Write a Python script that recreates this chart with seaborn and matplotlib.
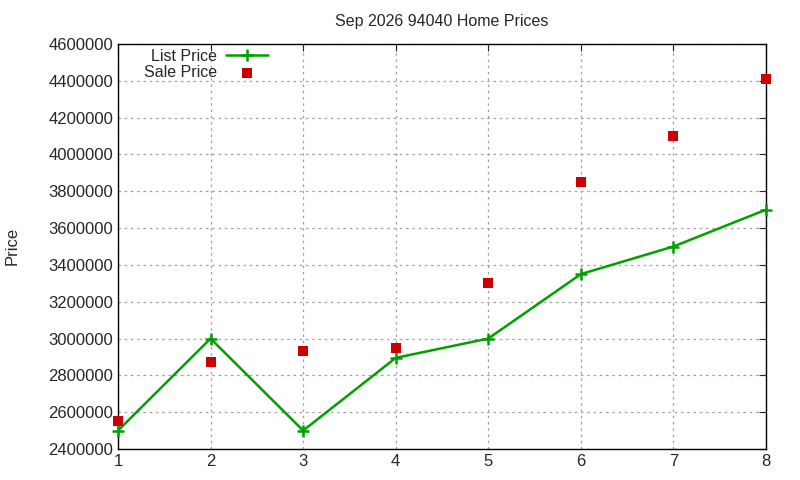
import numpy as np
import pandas as pd
import matplotlib
matplotlib.use('Agg')
import matplotlib.pyplot as plt
import seaborn as sns

# Chart data
months = [1, 2, 3, 4, 5, 6, 7, 8]
list_price = [2500000, 3000000, 2500000, 2895000, 3000000, 3350000, 3500000, 3700000]
sale_price = [2550000, 2875000, 2930000, 2950000, 3300000, 3850000, 4100000, 4410000]
y_ticks = [2400000, 2600000, 2800000, 3000000, 3200000, 3400000,
           3600000, 3800000, 4000000, 4200000, 4400000, 4600000]

sns.set_style('white')
plt.rcParams['font.family'] = ['Liberation Sans', 'DejaVu Sans']

df = pd.DataFrame({'month': months, 'list': list_price, 'sale': sale_price})

fig = plt.figure(figsize=(8, 4.8), dpi=100)
ax = fig.add_axes([0.1475, 0.0646, 0.81, 0.8437])

sns.lineplot(data=df, x='month', y='list', ax=ax, color='#00a000', linewidth=1.8,
             marker='+', markersize=8, markeredgewidth=1.8, markeredgecolor='#00a000',
             label='List Price', clip_on=False, zorder=3)
sns.scatterplot(data=df, x='month', y='sale', ax=ax, color='#cc0000', marker='s',
                s=48, linewidth=0, label='Sale Price', clip_on=False, zorder=4)

ax.set_xlim(1, 8)
ax.set_ylim(2400000, 4600000)
ax.set_xticks(months)
ax.set_yticks(y_ticks)
ax.set_yticklabels([str(v) for v in y_ticks])
ax.tick_params(direction='in', top=True, right=True, labelsize=12, length=5)
ax.grid(True, color='#a0a0a0', linestyle=(0, (2, 3)), linewidth=0.9)
for s in ax.spines.values():
    s.set_color('black')
    s.set_linewidth(1)

ax.set_xlabel('')
ax.set_ylabel('')
fig.text(12 / 800, 1 - 246 / 480, 'Price', rotation=90, fontsize=12,
         ha='center', va='center')
ax.set_title('Sep 2026 94040 Home Prices', fontsize=11.5, pad=13)

ax.legend(loc='upper left', bbox_to_anchor=(0.025, 1.012), frameon=False, markerfirst=False,
          fontsize=11.5, handlelength=2.6, handletextpad=0.6, labelspacing=0.08,
          borderaxespad=0.2)

fig.savefig('out.png', dpi=100)
